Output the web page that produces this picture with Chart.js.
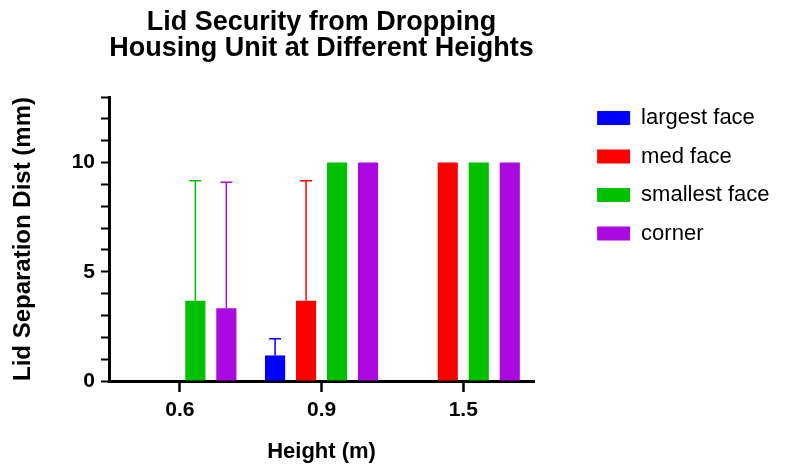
<!DOCTYPE html>
<html>
<head>
<meta charset="utf-8">
<script src="https://cdn.jsdelivr.net/npm/chart.js@4"></script>
<style>
  html, body { margin: 0; padding: 0; background: #fff; }
  #wrap { width: 785px; height: 468px; }
</style>
</head>
<body>
<div id="wrap"><canvas id="dropChart"></canvas></div>
<script>
// Data
const heights = ['0.6', '0.9', '1.5'];
const largestFace = [null, 1.17, null];
const largestFaceErr = [null, 0.76, null];
const medFace = [null, 3.67, 10];
const medFaceErr = [null, 5.5, 0];
const smallestFace = [3.67, 10, 10];
const smallestFaceErr = [5.5, 0, 0];
const corner = [3.33, 10, 10];
const cornerErr = [5.77, 0, 0];
const titleLines = ['Lid Security from Dropping', 'Housing Unit at Different Heights'];

const FONT = "'Liberation Sans', Arial, sans-serif";

// upper-only error bars with caps
const errorBars = {
  id: 'errorBars',
  afterDatasetsDraw(chart) {
    const ctx = chart.ctx;
    const yScale = chart.scales.y;
    chart.data.datasets.forEach((ds, di) => {
      const meta = chart.getDatasetMeta(di);
      ds.errors.forEach((err, i) => {
        const v = ds.data[i];
        if (v == null || !err) return;
        const bar = meta.data[i];
        const yTop = yScale.getPixelForValue(v + err);
        ctx.save();
        ctx.strokeStyle = ds.backgroundColor;
        ctx.lineWidth = 1.5;
        ctx.beginPath();
        ctx.moveTo(bar.x, bar.y);
        ctx.lineTo(bar.x, yTop);
        ctx.moveTo(bar.x - 6, yTop);
        ctx.lineTo(bar.x + 6, yTop);
        ctx.stroke();
        ctx.restore();
      });
    });
  }
};

// title centred over the plot area
const plotTitle = {
  id: 'plotTitle',
  afterDraw(chart) {
    const ctx = chart.ctx;
    const area = chart.chartArea;
    const cx = (area.left + area.right) / 2;
    ctx.save();
    ctx.fillStyle = '#000';
    ctx.font = 'bold 27px ' + FONT;
    ctx.textAlign = 'center';
    ctx.textBaseline = 'alphabetic';
    titleLines.forEach((line, i) => ctx.fillText(line, cx, 30 + i * 26));
    ctx.restore();
  }
};

const ctx = document.getElementById('dropChart').getContext('2d');
new Chart(ctx, {
  type: 'bar',
  data: {
    labels: heights,
    datasets: [
      { label: 'largest face', data: largestFace, errors: largestFaceErr, backgroundColor: '#0000FF' },
      { label: 'med face', data: medFace, errors: medFaceErr, backgroundColor: '#FF0000' },
      { label: 'smallest face', data: smallestFace, errors: smallestFaceErr, backgroundColor: '#00C000' },
      { label: 'corner', data: corner, errors: cornerErr, backgroundColor: '#AA0ADF' }
    ]
  },
  options: {
    responsive: true,
    maintainAspectRatio: false,
    animation: false,
    categoryPercentage: 0.875,
    barPercentage: 0.65,
    layout: { padding: { top: 90.5, right: 5.5, left: 0, bottom: 0 } },
    plugins: {
      title: { display: false },
      tooltip: { enabled: false },
      legend: {
        position: 'right',
        align: 'start',
        maxWidth: 400,
        labels: {
          boxWidth: 33,
          boxHeight: 14,
          padding: 16.5,
          color: '#000',
          font: { family: FONT, size: 22 }
        }
      }
    },
    scales: {
      x: {
        afterFit(scale) { scale.height = 87; },
        grid: {
          offset: false,
          drawOnChartArea: false,
          drawTicks: true,
          tickLength: 11,
          tickWidth: 2.5,
          tickColor: '#000'
        },
        border: { color: '#000', width: 3 },
        ticks: { color: '#000', padding: 6, font: { family: FONT, size: 21, weight: 'bold' } },
        title: {
          display: true,
          text: 'Height (m)',
          color: '#000',
          padding: { top: 10, bottom: 3 },
          font: { family: FONT, size: 22, weight: 'bold' }
        }
      },
      y: {
        min: 0,
        max: 13,
        afterFit(scale) { scale.width = 109; },
        grid: {
          drawOnChartArea: false,
          drawTicks: true,
          tickLength: 8,
          tickWidth: 2,
          tickColor: '#000'
        },
        border: { color: '#000', width: 3 },
        ticks: {
          stepSize: 1,
          autoSkip: false,
          color: '#000',
          padding: 6,
          font: { family: FONT, size: 21, weight: 'bold' },
          callback: v => (v % 5 === 0 && v <= 10 ? String(v) : '')
        },
        title: {
          display: true,
          text: 'Lid Separation Dist (mm)',
          color: '#000',
          padding: { top: 9, bottom: 0 },
          font: { family: FONT, size: 24, weight: 'bold' }
        }
      },
      // empty spacer scales to place the plot area and legend
      gap: {
        position: 'right',
        display: true,
        grid: { display: false },
        border: { display: false },
        ticks: { display: false },
        afterFit(scale) { scale.width = 46.5; }
      },
      topGap: {
        type: 'category',
        position: 'top',
        display: true,
        grid: { display: false },
        border: { display: false },
        ticks: { display: false },
        afterFit(scale) { scale.height = 6.5; }
      }
    }
  },
  plugins: [errorBars, plotTitle]
});
</script>
</body>
</html>
